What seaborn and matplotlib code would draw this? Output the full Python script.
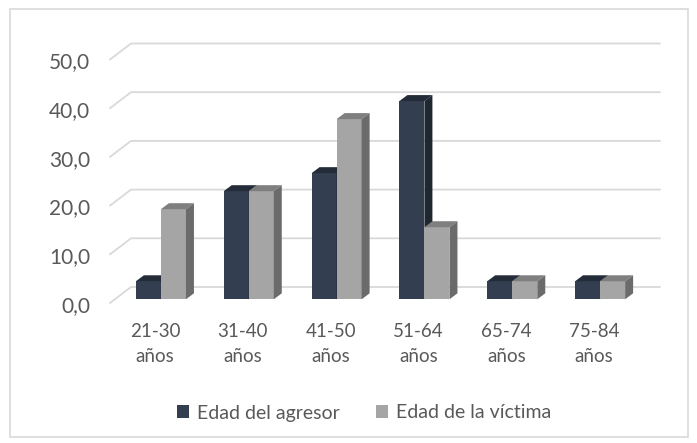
import matplotlib
matplotlib.use("Agg")
import matplotlib.pyplot as plt
from matplotlib.patches import Polygon, Rectangle
from matplotlib.transforms import ScaledTranslation
import seaborn as sns
import pandas as pd

categories = ["21-30\naños", "31-40\naños", "41-50\naños", "51-64\naños", "65-74\naños", "75-84\naños"]
agresor = [3.7, 22.2, 25.9, 40.7, 3.7, 3.7]
victima = [18.5, 22.2, 37.0, 14.8, 3.7, 3.7]
series = ["Edad del agresor", "Edad de la víctima"]
yticks = [0, 10, 20, 30, 40, 50]
ytick_labels = ["0,0", "10,0", "20,0", "30,0", "40,0", "50,0"]

df = pd.DataFrame({
    "cat": categories * 2,
    "serie": [series[0]] * 6 + [series[1]] * 6,
    "val": agresor + victima,
})

sns.set_theme(style="white")
plt.rcParams["font.family"] = ["Lato", "DejaVu Sans"]

W, H = 697, 443
fig = plt.figure(figsize=(W / 100, H / 100), dpi=100)
ax_left, ax_right, y0, y50 = 117, 644, 299.3, 55.8
ax = fig.add_axes([ax_left / W, 1 - y0 / H, (ax_right - ax_left) / W, (y0 - y50) / H])
ax.set_facecolor("none")

front = {series[0]: "#333F50", series[1]: "#A5A5A5"}
top = {series[0]: "#232C38", series[1]: "#7F7F7F"}
side = {series[0]: "#1F2731", series[1]: "#6B6B6B"}

pxx = (ax_right - ax_left) / 6.0
pxy = (y0 - y50) / 50.0

def xd(px):
    return -0.5 + (px - ax_left) / pxx

back_dy = 12.3 / pxy
front_dy = -3.7 / pxy
for v in yticks:
    ax.plot([xd(110), xd(131), xd(660)], [v + front_dy, v + back_dy, v + back_dy],
            color="#D9D9D9", lw=1.3, clip_on=False, zorder=0)

sns.barplot(data=df, x="cat", y="val", hue="serie", palette=front,
            width=0.57, gap=0, saturation=1, ax=ax, legend=True, zorder=2,
            edgecolor="none", linewidth=0)

ax.set_xlim(-0.5, 5.5)
ax.set_ylim(0, 50)

dx = 8 / pxx
dy = 6 / pxy
bars = [p for p in ax.patches if p.get_height() > 0]
order = sorted(bars, key=lambda p: p.get_x())
z = 2.0
for p in order:
    z += 0.01
    x0 = p.get_x()
    w = p.get_width()
    h = p.get_height()
    fc = p.get_facecolor()
    key = series[0] if abs(fc[0] - 0x33 / 255) < 0.05 else series[1]
    p.set_zorder(z)
    p.set_clip_on(False)
    topp = Polygon([[x0, h], [x0 + w, h], [x0 + w + dx, h + dy], [x0 + dx, h + dy]],
                   closed=True, facecolor=top[key], edgecolor="none", clip_on=False,
                   zorder=z + 0.001)
    sidep = Polygon([[x0 + w, 0], [x0 + w + dx, dy], [x0 + w + dx, h + dy], [x0 + w, h]],
                    closed=True, facecolor=side[key], edgecolor="none", clip_on=False,
                    zorder=z + 0.002)
    ax.add_patch(topp)
    ax.add_patch(sidep)

for s in ax.spines.values():
    s.set_visible(False)
ax.set_xlabel("")
ax.set_ylabel("")

text_color = "#595959"
ax.set_yticks(yticks, ytick_labels)
ax.tick_params(axis="y", length=0, pad=27 * 0.72, labelsize=15, labelcolor=text_color)
for lbl in ax.get_yticklabels():
    lbl.set_transform(lbl.get_transform() + ScaledTranslation(0, -0.045, fig.dpi_scale_trans))

ax.set_xticks(range(6), categories)
ax.tick_params(axis="x", length=0, pad=17, labelsize=13.5, labelcolor=text_color)
for lbl in ax.get_xticklabels():
    lbl.set_linespacing(1.55)
    lbl.set_transform(lbl.get_transform() + ScaledTranslation(-0.06, 0, fig.dpi_scale_trans))

handles, labels = ax.get_legend_handles_labels()
ax.legend(handles, labels, loc="center", bbox_to_anchor=(364 / W, 30 / H),
          bbox_transform=fig.transFigure, ncol=2, frameon=False,
          fontsize=14, labelcolor=text_color, handlelength=0.6, handleheight=0.6,
          handletextpad=0.4, columnspacing=1.9)

fig.add_artist(Rectangle((10 / W, 1 - 437 / H), 678 / W, 428 / H, transform=fig.transFigure,
                         facecolor="none", edgecolor="#D9D9D9", lw=1.2))

fig.savefig("out.png", dpi=100)
